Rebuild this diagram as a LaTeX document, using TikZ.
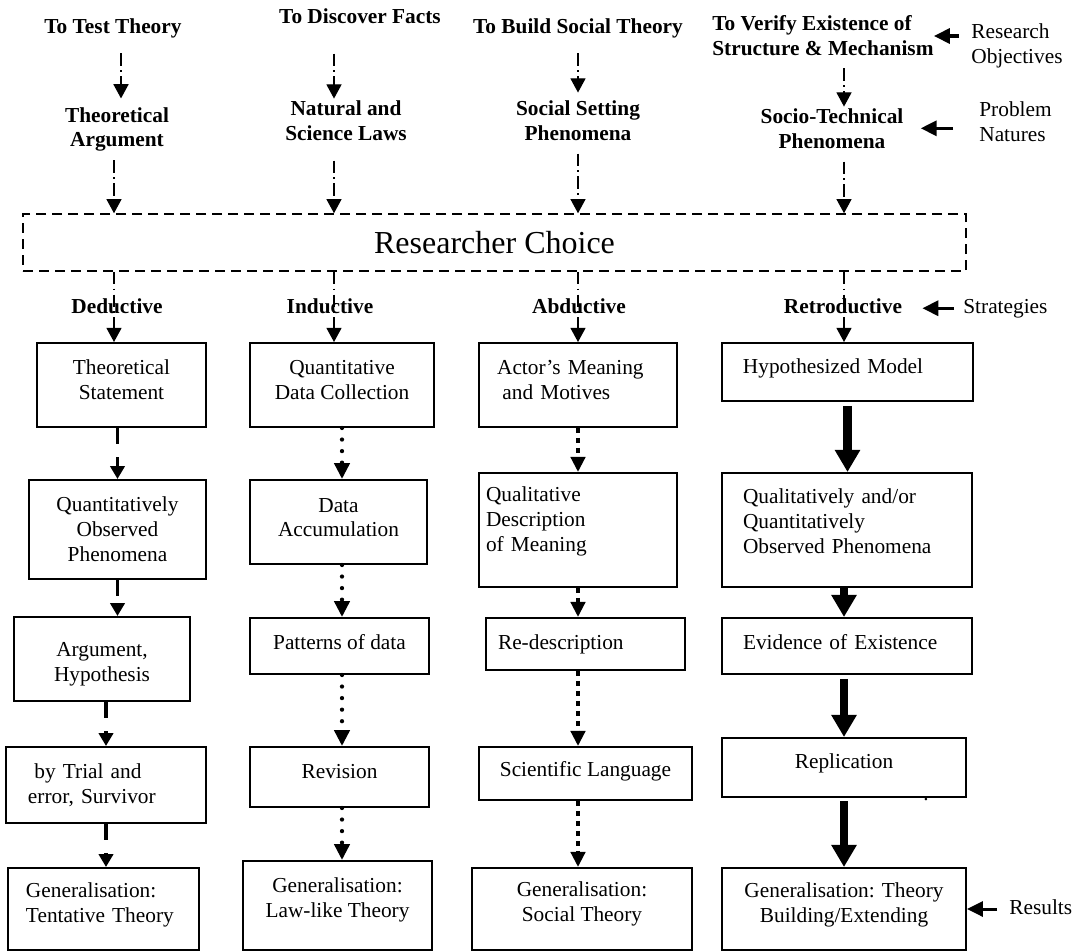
\documentclass[tikz,border=0pt]{standalone}
\usepackage{fontspec}
\setmainfont{Liberation Serif}
\usetikzlibrary{arrows.meta}
\newcommand{\pxu}{0.5625pt}
\tikzset{
    goal/.style =   {font=\fontsize{12}{14}\selectfont\bfseries,
                    align=center,
                    inner sep=0pt},
    note/.style =   {font=\fontsize{12}{14}\selectfont,
                    align=left,
                    inner sep=0pt},
    stage/.style =  {rectangle,
                    draw=black,
                    line width=1.1pt,
                    font=\fontsize{12}{14}\selectfont,
                    align=center,
                    inner sep=0pt},
    choice/.style = {rectangle,
                    draw=black,
                    line width=0.85pt,
                    dash pattern=on 5.6pt off 3.4pt,
                    font=\fontsize{18}{21}\selectfont,
                    inner sep=0pt},
    sz/.style 2 args = {minimum width=#1*\pxu,
                    minimum height=#2*\pxu},
    lift/.style =   {text depth=#1},
    ltext/.style =  {align=left,
                    text width=#1},
    -,
    dd/.style =     {-{Triangle[length=8pt,width=8.5pt]},
                    line width=0.7pt,
                    dash pattern=on 7pt off 2.5pt on 0.8pt off 2.5pt},
    ded/.style =    {-{Triangle[length=7.3pt,width=8pt]},
                    line width=2pt,
                    dash pattern=on 9pt off 7.5pt},
    ind/.style =    {-{Triangle[length=9pt,width=8.5pt]},
                    line width=2.4pt,
                    line cap=round,
                    dash pattern=on 0pt off 6.5pt},
    abd/.style =    {-{Triangle[length=8.5pt,width=8pt]},
                    line width=2.8pt,
                    dash pattern=on 2.8pt off 2.8pt},
    ret/.style =    {-{Triangle[length=12.4pt,width=13.5pt]},
                    line width=5pt},
    pointer/.style = {-{Triangle[length=9pt,width=8.5pt]},
                    line width=1.7pt}}

\begin{document}
\begin{tikzpicture}[x=0.5625pt,y=-0.5625pt]
    \useasboundingbox (0,0) rectangle (1080,951);
    % lanes of the vertical arrows
    \coordinate (laneA) at (121,0);
    \coordinate (laneAm) at (114,0);
    \coordinate (laneB) at (334,0);
    \coordinate (laneC) at (578,0);
    \coordinate (laneD) at (844,0);

    % objectives
    \node[goal, anchor=base]  (g1) at (113,33)  {To Test Theory};
    \node[goal, anchor=base]  (g2) at (360,23)  {To Discover Facts};
    \node[goal, anchor=base]  (g3) at (578,33)  {To Build Social Theory};
    \node[goal, align=left, anchor=west] (g4) at (712,36) {To Verify Existence of\\Structure \& Mechanism};
    \node[note, anchor=west]  (ro) at (971,45.5) {Research\\Objectives};

    % problem natures
    \node[goal] (p1) at (117,129.5) {Theoretical\\Argument};
    \node[goal] (p2) at (346,120.3) {Natural and\\Science Laws};
    \node[goal] (p3) at (578,120.3) {Social Setting\\Phenomena};
    \node[goal] (p4) at (832,128.3) {Socio-Technical\\Phenomena};
    \node[note, anchor=west] (pn) at (979,121.3) {Problem\\Natures};

    \node[choice, sz={943}{57}] (rc) at (494.5,242.5) {Researcher Choice};

    % strategies
    \node[goal, anchor=base] (s1) at (117,313) {Deductive};
    \node[goal, anchor=base] (s2) at (330,313) {Inductive};
    \node[goal, anchor=base] (s3) at (579,313) {Abductive};
    \node[goal, anchor=base] (s4) at (843,313) {Retroductive};
    \node[note, anchor=base west] (st) at (963,313) {Strategies};

    % deductive
    \node[stage, sz={169}{84}, lift=5.6pt] (a1) at (121.5,385) {Theoretical\\Statement};
    \node[stage, sz={177}{99}] (a2) at (117.5,529.5) {Quantitatively\\Observed\\Phenomena};
    \node[stage, sz={176}{84}, text height=28.2pt] (a3) at (102,659) {Argument,\\Hypothesis};
    \node[stage, sz={200}{76}, ltext=87.75pt] (a4) at (106,785) {\hspace*{.3em}by Trial and\\error, Survivor};
    \node[stage, sz={191}{82}, ltext=87.2pt, lift=21.6pt] (a5) at (103.5,909) {Generalisation:\\Tentative Theory};

    % inductive
    \node[stage, sz={184}{84}, lift=5.6pt] (b1) at (342,385) {Quantitative\\Data Collection};
    \node[stage, sz={177}{84}, lift=5pt] (b2) at (338.5,522) {Data\\Accumulation};
    \node[stage, sz={179}{56}, lift=4.5pt] (b3) at (339.5,646) {Patterns of data};
    \node[stage, sz={179}{60}, lift=6.75pt] (b4) at (339.5,777) {Revision};
    \node[stage, sz={189}{89}, lift=9.4pt] (b5) at (337.5,905.5) {Generalisation:\\Law-like Theory};

    % abductive
    \node[stage, sz={198}{84}, ltext=91pt, lift=19.6pt] (c1) at (578,385) {Actor's Meaning\\\hspace*{.25em}and Motives};
    \node[stage, sz={198}{114}, ltext=103.5pt, lift=40.7pt] (c2) at (578,530) {Qualitative\\Description\\of Meaning};
    \node[stage, sz={199}{52}, ltext=98.4pt] (c3) at (585.5,644) {Re-description};
    \node[stage, sz={213}{53}, lift=5.4pt] (c4) at (585.5,773.5) {Scientific Language};
    \node[stage, sz={220}{82}, lift=8.8pt] (c5) at (582,909) {Generalisation:\\Social Theory};

    % retroductive
    \node[stage, sz={251}{58}, ltext=117.6pt, lift=7.1pt] (d1) at (847.5,372) {Hypothesized Model};
    \node[stage, sz={250}{114}, ltext=117pt, lift=38.1pt] (d2) at (847,530) {Qualitatively and/or\\Quantitatively\\Observed Phenomena};
    \node[stage, sz={250}{56}, ltext=117pt, lift=4.5pt] (d3) at (847,646) {Evidence of Existence};
    \node[stage, sz={244}{59}, lift=7.6pt] (d4) at (844,767.5) {Replication};
    \node[stage, sz={244}{82}, lift=7.1pt] (d5) at (844,909) {Generalisation: Theory\\Building/Extending};
    \node[note, anchor=base west] (rs) at (1009,914) {Results};
    \node[note] (speck) at (926,800) {.};

    % objectives -> problems -> choice -> first steps
    \draw[dd, shorten <=8.7pt, shorten >=4.8pt]  (g1.south -| laneA) -- (p1.north -| laneA);
    \draw[dd, shorten <=16.9pt, shorten >=0.8pt] (g2.south -| laneB) -- (p2.north -| laneB);
    \draw[dd, shorten <=8.7pt, shorten >=4.2pt]  (g3.south -| laneC) -- (p3.north -| laneC);
    \draw[dd, shorten <=6.75pt, shorten >=0.8pt] (g4.south -| laneD) -- (p4.north -| laneD);
    \draw[dd, shorten <=4.7pt]  (p1.south -| laneAm) -- (rc.north -| laneAm);
    \draw[dd, shorten <=11.25pt] (p2.south -| laneB) -- (rc.north -| laneB);
    \draw[dd, shorten <=7.3pt]  (p3.south -| laneC) -- (rc.north -| laneC);
    \draw[dd, shorten <=7.3pt]  (p4.south -| laneD) -- (rc.north -| laneD);
    \draw[dd] (rc.south -| laneAm) -- (a1.north -| laneAm);
    \draw[dd] (rc.south -| laneB) -- (b1.north -| laneB);
    \draw[dd] (rc.south -| laneC) -- (c1.north -| laneC);
    \draw[dd] (rc.south -| laneD) -- (d1.north -| laneD);

    % the four chains
    \draw[ded] (a1.south -| a2) -- (a2.north);
    \draw[ded] (a2.south) -- (a3.north -| a2);
    \draw[ded] (a3.south -| a4) -- (a4.north);
    \draw[ded] (a4.south) -- (a5.north -| a4);
    \draw[ind] (b1.south) -- (b2.north -| b1);
    \draw[ind] (b2.south -| b1) -- (b3.north -| b1);
    \draw[ind] (b3.south -| b1) -- (b4.north -| b1);
    \draw[ind] (b4.south -| b1) -- (b5.north -| b1);
    \draw[abd] (c1.south) -- (c2.north);
    \draw[abd] (c2.south) -- (c3.north -| c2);
    \draw[abd] (c3.south -| c2) -- (c4.north -| c2);
    \draw[abd] (c4.south -| c2) -- (c5.north -| c2);
    \draw[ret, shorten <=2.2pt] (d1.south) -- (d2.north -| d1);
    \draw[ret] (d2.south -| d4) -- (d3.north -| d4);
    \draw[ret, shorten <=2.2pt] (d3.south -| d4) -- (d4.north);
    \draw[ret, shorten <=1.7pt] (d4.south) -- (d5.north);

    % side labels
    \draw[pointer, shorten <=6.75pt] (ro.west |- g4.east) -- (g4.east);
    \draw[pointer, shorten <=14.6pt, shorten >=9.6pt] (pn.west |- p4.east) -- (p4.east);
    \draw[pointer, shorten <=5pt, shorten >=11.25pt] (st.west) -- (st.west -| s4.east);
    \draw[pointer, shorten <=6.75pt] (rs.west |- d5.east) -- (d5.east);
\end{tikzpicture}
\end{document}
